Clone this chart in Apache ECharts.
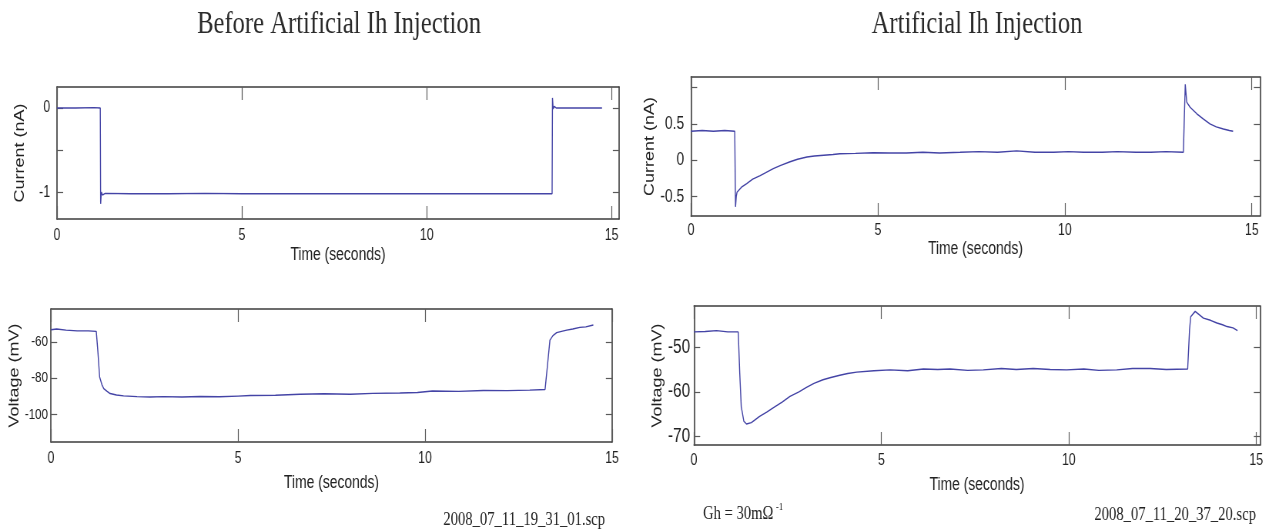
<!DOCTYPE html>
<html>
<head>
<meta charset="utf-8">
<script src="https://cdn.jsdelivr.net/npm/echarts@6/dist/echarts.min.js"></script>
<style>
  html, body { margin: 0; padding: 0; background: #fff; overflow: hidden; }
  /* the figure is drawn wide and compressed horizontally, giving its narrow lettering */
  #chart { width: 1651px; height: 531px; transform: scaleX(0.77); transform-origin: 0 0; }
</style>
</head>
<body>
<div id="chart"></div>
<script>
// Horizontal compression factor applied to the whole canvas
const S = 0.77;
const px = x => x / S;

// ---- Before artificial Ih injection: injected current (nA) ----
const tlTime = [0, 0.5, 1.0, 1.17, 1.18, 1.20, 1.23, 1.3, 2, 3, 4, 5, 6, 7, 8, 9, 10, 11, 12, 13, 13.39, 13.40, 13.42, 13.45, 13.5, 13.6, 14, 14.4, 14.74];
const tlCurrent = [0, 0, 0.005, 0, -1.14, -1.0, -1.035, -1.015, -1.02, -1.02, -1.015, -1.02, -1.02, -1.018, -1.02, -1.02, -1.018, -1.02, -1.02, -1.02, -1.02, 0.12, -0.01, 0.02, 0, 0, 0, 0, 0];

// ---- Before artificial Ih injection: membrane voltage (mV) ----
const blTime = [0, 0.15, 0.4, 0.7, 1.0, 1.21, 1.25, 1.30, 1.36, 1.41, 1.5, 1.58, 1.75, 1.94, 2.3, 2.65, 3.0, 3.5, 3.99, 4.5, 5.0, 5.33, 6.0, 6.66, 7.3, 8.0, 8.6, 9.33, 9.8, 10.2, 10.9, 11.56, 12.2, 12.8, 13.21, 13.27, 13.34, 13.42, 13.52, 13.65, 13.79, 13.95, 14.14, 14.3, 14.5];
const blVoltage = [-53.4, -53.0, -53.6, -54.0, -54.0, -54.3, -64.6, -79.3, -83.5, -85.7, -87.2, -88.4, -89.2, -89.7, -90.1, -90.3, -90.1, -90.3, -90.0, -90.2, -89.8, -89.5, -89.3, -88.8, -88.5, -88.8, -88.3, -88.1, -87.8, -87.0, -87.2, -86.7, -86.8, -86.5, -86.2, -73.8, -59.1, -56.6, -55.0, -54.3, -53.6, -53.0, -52.1, -51.8, -50.8];

// ---- Artificial Ih injection: injected current (nA) ----
const trTime = [0, 0.3, 0.6, 0.9, 1.17, 1.19, 1.21, 1.23, 1.35, 1.49, 1.65, 1.85, 2.0, 2.2, 2.4, 2.65, 2.85, 3.1, 3.3, 3.55, 3.8, 3.98, 4.4, 4.87, 5.3, 5.76, 6.2, 6.65, 7.2, 7.7, 8.2, 8.71, 9.2, 9.7, 10.1, 10.5, 11.0, 11.4, 11.9, 12.3, 12.7, 13.17, 13.22, 13.26, 13.35, 13.53, 13.7, 13.88, 14.05, 14.24, 14.4, 14.5];
const trCurrent = [0.40, 0.41, 0.40, 0.41, 0.40, -0.64, -0.50, -0.44, -0.37, -0.32, -0.26, -0.21, -0.17, -0.115, -0.07, -0.02, 0.015, 0.045, 0.06, 0.07, 0.08, 0.09, 0.095, 0.105, 0.10, 0.10, 0.11, 0.10, 0.11, 0.12, 0.11, 0.13, 0.11, 0.11, 0.12, 0.11, 0.11, 0.12, 0.11, 0.11, 0.12, 0.11, 1.045, 0.80, 0.73, 0.64, 0.57, 0.50, 0.46, 0.43, 0.41, 0.40];

// ---- Artificial Ih injection: membrane voltage (mV) ----
const brTime = [0, 0.3, 0.6, 0.9, 1.18, 1.22, 1.26, 1.33, 1.40, 1.53, 1.75, 1.95, 2.11, 2.35, 2.56, 2.8, 3.0, 3.2, 3.44, 3.65, 3.89, 4.1, 4.34, 4.8, 5.23, 5.7, 6.12, 6.5, 6.83, 7.3, 7.72, 8.2, 8.6, 9.05, 9.5, 9.94, 10.4, 10.8, 11.28, 11.7, 12.17, 12.6, 13.17, 13.22, 13.25, 13.37, 13.59, 13.78, 13.95, 14.1, 14.22, 14.38, 14.5];
const brVoltage = [-46.6, -46.5, -46.3, -46.6, -46.6, -55.8, -63.3, -66.6, -67.2, -66.9, -65.5, -64.5, -63.6, -62.3, -61.0, -60.0, -59.0, -58.1, -57.3, -56.8, -56.3, -55.9, -55.6, -55.3, -55.1, -55.3, -54.9, -55.0, -54.9, -55.2, -55.1, -54.8, -55.0, -54.8, -55.0, -55.1, -54.9, -55.2, -55.1, -54.8, -54.8, -55.0, -54.9, -46.1, -43.2, -42.0, -43.5, -44.0, -44.6, -45.0, -45.4, -45.7, -46.3];

// ---- Tick positions and labels ----
const timeTicks = [0, 5, 10, 15];
const tlCurrentTicks = [-1, -0.5, 0];
const tlCurrentLabels = [-1, 0];
const trCurrentTicks = [-0.5, 0, 0.5, 1];
const trCurrentLabels = [-0.5, 0, 0.5];
const blVoltageTicks = [-100, -80, -60];
const brVoltageTicks = [-70, -60, -50];

// ---- Text ----
const titleBefore = 'Before Artificial Ih Injection';
const titleAfter = 'Artificial Ih Injection';
const timeName = 'Time (seconds)';
const currentName = 'Current (nA)';
const voltageName = 'Voltage (mV)';
const fileBefore = '2008_07_11_19_31_01.scp';
const fileAfter = '2008_07_11_20_37_20.scp';
const ghText = 'Gh = 30m\u03A9';
const ghSup = '-1';

const SANS = 'Liberation Sans, Arial, sans-serif';
const SERIF = 'Liberation Serif, Times New Roman, serif';
const BOX = '#3c3c3c';
const TICK = '#5a5a5a';
const TEXT = '#222';
const TRACE = '#4444a6';

const zip = (a, b) => a.map((t, i) => [t, b[i]]);

// one boxed panel: bottom/top time axes, left/right value axes
const panels = [
  { box: [57, 619, 87, 219], x: [0, 15.2], y: [-1.32, 0.25], yTicks: tlCurrentTicks, yLabels: tlCurrentLabels,
    yName: currentName, yGap: 39, xGap: 27, xMargin: 9, yMargin: 9, yFont: 16, data: zip(tlTime, tlCurrent) },
  { box: [691, 1260, 77, 216], x: [0, 15.22], y: [-0.766, 1.146], yTicks: trCurrentTicks, yLabels: trCurrentLabels,
    yName: currentName, yGap: 35, xGap: 15, xMargin: 7, yMargin: 9, yFont: 18, data: zip(trTime, trCurrent) },
  { box: [51, 612, 309, 442], x: [0, 15], y: [-115, -42], yTicks: blVoltageTicks, yLabels: blVoltageTicks,
    yName: voltageName, yGap: 34, xGap: 32, xMargin: 9, yMargin: 4, yFont: 15, data: zip(blTime, blVoltage) },
  { box: [694, 1260, 306, 445], x: [0, 15.1], y: [-71.9, -40.8], yTicks: brVoltageTicks, yLabels: brVoltageTicks,
    yName: voltageName, yGap: 33, xGap: 31, xMargin: 8, yMargin: 5, yFont: 20, data: zip(brTime, brVoltage) }
];

const grid = [], xAxis = [], yAxis = [], series = [];
panels.forEach((p, i) => {
  const [l, r, t, b] = p.box;
  grid.push({ left: px(l), top: t, width: px(r) - px(l), height: b - t, containLabel: false });
  const line = { show: true, onZero: false, lineStyle: { color: BOX, width: 1.6 } };
  const xBase = { gridIndex: i, type: 'value', min: p.x[0], max: p.x[1], axisLine: line, splitLine: { show: false },
    axisTick: { show: true, inside: true, length: 13, customValues: timeTicks, lineStyle: { color: TICK, width: 1.2 } } };
  xAxis.push(Object.assign({}, xBase, {
    position: 'bottom',
    axisLabel: { customValues: timeTicks, margin: p.xMargin, fontSize: 16, fontFamily: SANS, color: TEXT },
    name: timeName, nameLocation: 'middle', nameGap: p.xGap,
    nameTextStyle: { fontSize: 18, fontFamily: SANS, color: TEXT }
  }));
  xAxis.push(Object.assign({}, xBase, { position: 'top', axisLabel: { show: false } }));
  const yBase = { gridIndex: i, type: 'value', min: p.y[0], max: p.y[1], axisLine: line, splitLine: { show: false },
    axisTick: { show: true, inside: true, length: 8, customValues: p.yTicks, lineStyle: { color: TICK, width: 1.2 } } };
  yAxis.push(Object.assign({}, yBase, {
    position: 'left',
    axisLabel: { customValues: p.yLabels, margin: p.yMargin, fontSize: p.yFont, fontFamily: SANS, color: TEXT },
    name: p.yName, nameLocation: 'middle', nameGap: p.yGap,
    nameTextStyle: { fontSize: 18, fontFamily: SANS, color: TEXT }
  }));
  yAxis.push(Object.assign({}, yBase, { position: 'right', axisLabel: { show: false } }));
  series.push({
    type: 'line', xAxisIndex: 2 * i, yAxisIndex: 2 * i, data: p.data,
    showSymbol: false, symbol: 'none', silent: true,
    lineStyle: { color: TRACE, width: 1.4 }
  });
});

const graphic = [
  { type: 'text', x: px(339), y: 25, style: { text: titleBefore, font: '32px ' + SERIF, fill: '#2a2a2a', textAlign: 'center', textVerticalAlign: 'middle' } },
  { type: 'text', x: px(977), y: 25, style: { text: titleAfter, font: '32px ' + SERIF, fill: '#2a2a2a', textAlign: 'center', textVerticalAlign: 'middle' } },
  { type: 'text', x: px(605), y: 520, style: { text: fileBefore, font: '19px ' + SERIF, fill: TEXT, textAlign: 'right', textVerticalAlign: 'middle' } },
  { type: 'text', x: px(1256), y: 515, style: { text: fileAfter, font: '19px ' + SERIF, fill: TEXT, textAlign: 'right', textVerticalAlign: 'middle' } },
  { type: 'text', x: px(703), y: 514, style: { text: ghText, font: '19px ' + SERIF, fill: TEXT, textAlign: 'left', textVerticalAlign: 'middle' } },
  { type: 'text', x: px(776), y: 507, style: { text: ghSup, font: '11px ' + SERIF, fill: TEXT, textAlign: 'left', textVerticalAlign: 'middle' } }
];

const chart = echarts.init(document.getElementById('chart'), null, { renderer: 'canvas' });
chart.setOption({
  animation: false,
  backgroundColor: '#fff',
  grid, xAxis, yAxis, series, graphic
});
</script>
</body>
</html>
